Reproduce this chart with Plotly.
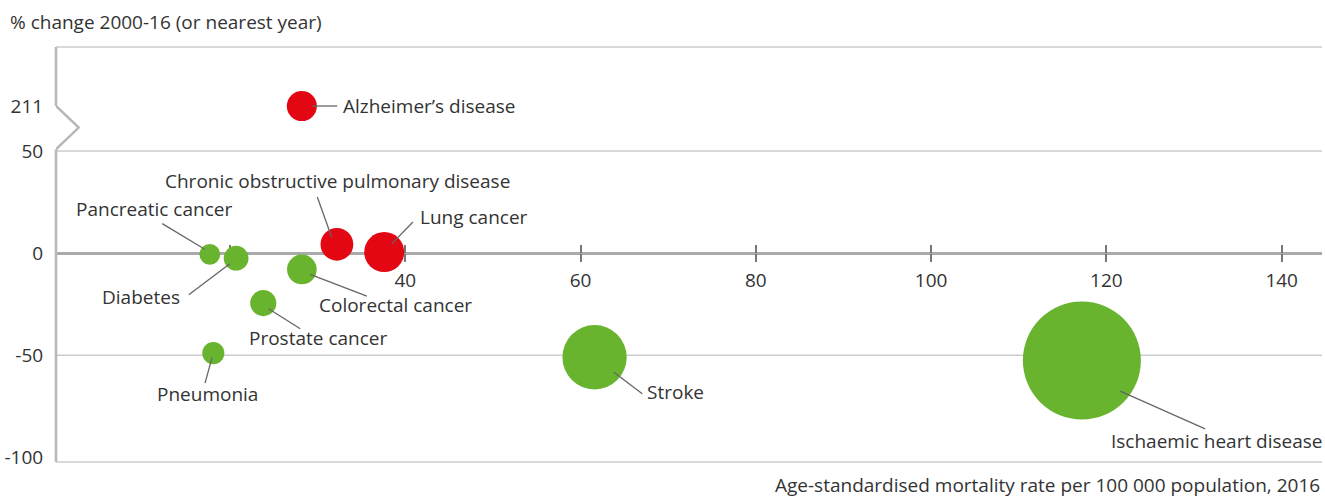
import plotly.graph_objects as go

# ---------------- data ----------------
causes = ["Alzheimer’s disease", "Chronic obstructive pulmonary disease", "Lung cancer",
          "Pancreatic cancer", "Diabetes", "Colorectal cancer", "Prostate cancer",
          "Pneumonia", "Stroke", "Ischaemic heart disease"]
mortality_rate = [28.2, 32.2, 37.6, 17.7, 20.7, 28.2, 23.8, 18.1, 61.6, 117.2]
pct_change = [211, 4.3, 0.5, -0.6, -2.5, -8.0, -24.5, -49.0, -51.0, -52.6]
relative_deaths = [6.5, 7.7, 11.5, 3.1, 4.4, 6.3, 4.9, 3.5, 29.7, 100.0]
increased = [True, True, True, False, False, False, False, False, False, False]

x_tickvals = [20, 40, 60, 80, 100, 120, 140]
x_ticktext = ["", "40", "60", "80", "100", "120", "140"]
y_tickvals = [-100, -50, 0, 50]
y_gridvals = [-50, 50]
BREAK_VALUE = 50         # axis is broken above this value
BREAK_POS = 72           # where values above the break are drawn
y_ticklabel_break = "211"

# ---------------- styling ----------------
RED = "#e30613"
GREEN = "#69b42e"
TXT = "#333333"
FONT = "Open Sans"
FS = 19

X_RANGE = [0.15, 144.6]
Y_RANGE = [-102.3, 100.9]

plot_y = [BREAK_POS if v > BREAK_VALUE else v for v in pct_change]
colors = [RED if inc else GREEN for inc in increased]
sizeref = 2.0 * max(relative_deaths) / (118.0 ** 2)

fig = go.Figure()
fig.add_trace(go.Scatter(
    x=mortality_rate, y=plot_y, mode="markers",
    marker=dict(size=relative_deaths, sizemode="area", sizeref=sizeref,
                color=colors, line=dict(width=0), opacity=1),
    text=causes, hoverinfo="text", showlegend=False, cliponaxis=False,
))

# label placement: (line dx0, dy0, dx1, dy1, text xshift, yshift, xanchor) in pixels (y up)
label_layout = {
    "Alzheimer’s disease": (10.4, 0, 35.4, 0, 39, 0, "left"),
    "Chronic obstructive pulmonary disease": (-5.3, 7.3, -19.6, 47.3, 0.7, 63, "center"),
    "Lung cancer": (7.7, 8.4, 28.7, 30, 34, 35, "left"),
    "Pancreatic cancer": (-5, 5, -47.6, 30.7, -56.3, 45, "center"),
    "Diabetes": (-6.3, -5.6, -47.3, -36.6, -54.3, -39, "right"),
    "Colorectal cancer": (8.3, -5, 65, -26.7, 15.3, -36, "left"),
    "Prostate cancer": (5.3, -5.6, 37, -25.6, -16, -34.6, "left"),
    "Pneumonia": (-1.3, -4.6, -8.3, -30, -6.3, -40.6, "center"),
    "Stroke": (19.3, -15, 47.7, -36.6, 50, -34.3, "left"),
    "Ischaemic heart disease": (38.3, -30.7, 123.3, -68.3, 243.3, -80, "right"),
}

shapes = []
annotations = []
for name, xv, yv in zip(causes, mortality_rate, plot_y):
    dx0, dy0, dx1, dy1, tx, ty, anc = label_layout[name]
    shapes.append(dict(type="line", xref="x", yref="y",
                       xsizemode="pixel", ysizemode="pixel", xanchor=xv, yanchor=yv,
                       x0=dx0, x1=dx1, y0=dy0, y1=dy1,
                       line=dict(color="#666666", width=1.3), layer="above"))
    annotations.append(dict(x=xv, y=yv, xref="x", yref="y", text=name, showarrow=False,
                            xanchor=anc, yanchor="middle", xshift=tx, yshift=ty,
                            font=dict(family=FONT, size=FS, color=TXT)))

# horizontal grid lines, top & bottom frame lines
for gv in y_gridvals:
    shapes.append(dict(type="line", xref="paper", yref="y", x0=0, x1=1, y0=gv, y1=gv,
                       line=dict(color="#cccccc", width=1.5), layer="below"))
for py in [0, 1]:
    shapes.append(dict(type="line", xref="paper", yref="paper", x0=0, x1=1, y0=py, y1=py,
                       line=dict(color="#cccccc", width=1.5), layer="below"))

# broken y axis line
AX = dict(color="#b8b8b8", width=2.5)
shapes.append(dict(type="line", xref="paper", yref="y", x0=0, x1=0,
                   y0=Y_RANGE[0], y1=BREAK_VALUE + 0.8, line=AX, layer="above"))
shapes.append(dict(type="line", xref="paper", yref="y", x0=0, x1=0,
                   y0=BREAK_POS, y1=Y_RANGE[1], line=AX, layer="above"))
shapes.append(dict(type="path", xref="x", yref="y", xsizemode="pixel", ysizemode="pixel",
                   xanchor=X_RANGE[0], yanchor=BREAK_POS,
                   path="M0,0 L22.7,-21.6 L0,-43.3",
                   line=AX, layer="above"))

# axis titles
annotations.append(dict(x=0, y=1, xref="paper", yref="paper", text="% change 2000-16 (or nearest year)",
                        showarrow=False, xanchor="left", yanchor="middle", xshift=-48, yshift=25,
                        font=dict(family=FONT, size=FS, color=TXT)))
annotations.append(dict(x=1, y=0, xref="paper", yref="paper",
                        text="Age-standardised mortality rate per 100 000 population, 2016",
                        showarrow=False, xanchor="right", yanchor="middle", xshift=0, yshift=-23,
                        font=dict(family=FONT, size=FS, color=TXT)))

zero_pos = (0 - Y_RANGE[0]) / (Y_RANGE[1] - Y_RANGE[0])

fig.update_layout(
    width=1325, height=497,
    margin=dict(l=56, r=3, t=47, b=35),
    paper_bgcolor="white", plot_bgcolor="white",
    shapes=shapes, annotations=annotations,
    xaxis=dict(range=X_RANGE, anchor="free", position=zero_pos,
               tickvals=x_tickvals, ticktext=x_ticktext,
               ticks="outside", ticklen=8, tickwidth=1.5, tickcolor="#777777",
               ticklabelstandoff=2,
               showgrid=False, zeroline=False, showline=False, layer="below traces",
               tickfont=dict(family=FONT, size=FS, color=TXT)),
    xaxis2=dict(range=X_RANGE, anchor="free", position=zero_pos, overlaying="x", matches="x",
                side="bottom", tickvals=x_tickvals, showticklabels=False,
                ticks="inside", ticklen=8, tickwidth=1.5, tickcolor="#777777",
                showgrid=False, zeroline=False, showline=False, layer="below traces"),
    yaxis=dict(range=Y_RANGE, tickvals=y_tickvals + [BREAK_POS],
               ticktext=[str(v) for v in y_tickvals] + [y_ticklabel_break],
               showgrid=False, zeroline=True, zerolinecolor="#aaaaaa", zerolinewidth=3,
               showline=False, ticks="outside", ticklen=8, tickcolor="rgba(0,0,0,0)",
               tickfont=dict(family=FONT, size=FS, color=TXT)),
    hovermode="closest",
)
# dummy trace to activate xaxis2
fig.add_trace(go.Scatter(x=[None], y=[None], xaxis="x2", yaxis="y", showlegend=False,
                         hoverinfo="skip"))

fig.write_html("out.html", config={"displayModeBar": False},
               post_script="document.body.style.margin='0px';")
